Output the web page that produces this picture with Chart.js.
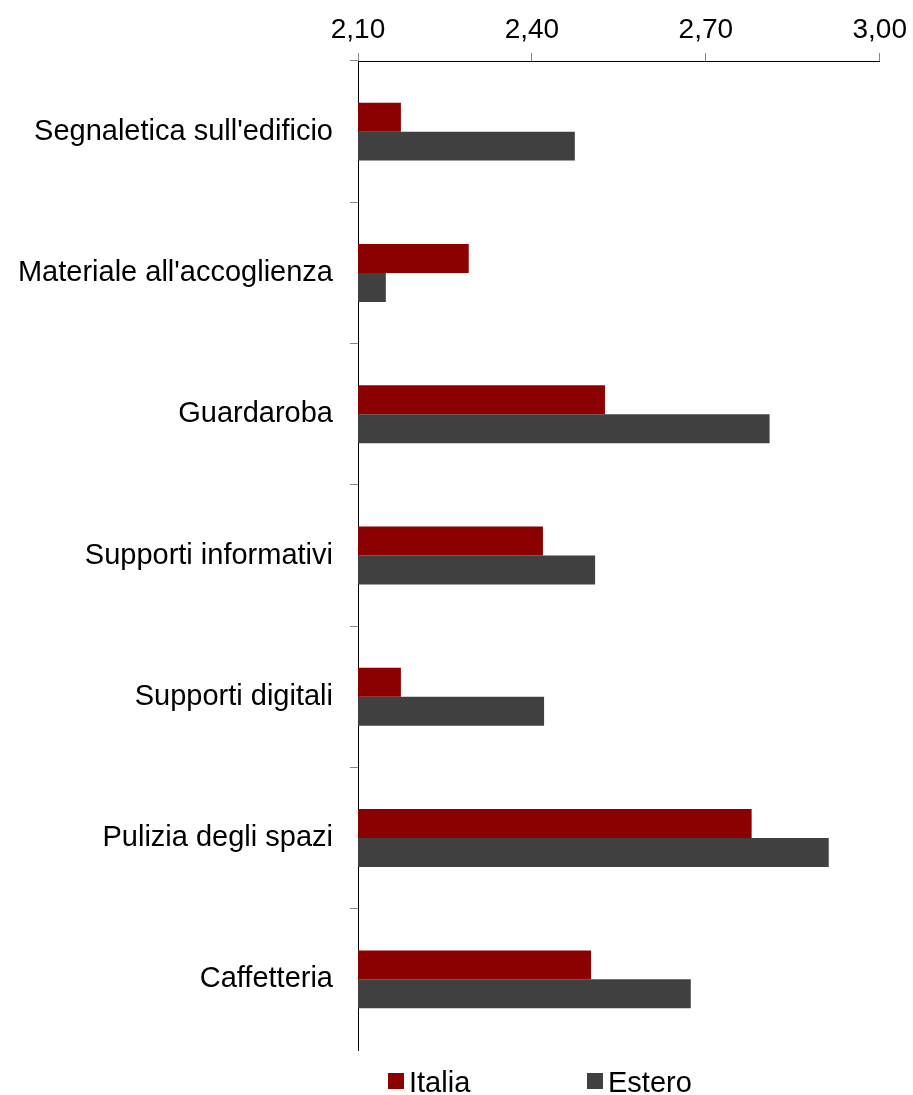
<!DOCTYPE html>
<html>
<head>
<meta charset="utf-8">
<script src="https://cdn.jsdelivr.net/npm/chart.js@4.4.1/dist/chart.umd.min.js"></script>
<style>
  html, body { margin: 0; padding: 0; background: #fff; }
  #wrap { position: relative; width: 913px; height: 1095px; overflow: hidden; }
  #legend { position: absolute; left: 0; top: 1066px; width: 913px; height: 34px;
            font-family: "Liberation Sans", Arial, sans-serif; font-size: 29px; color: #000; }
  .item { position: absolute; top: 0; display: flex; align-items: center; height: 33px; line-height: normal; }
  .box { width: 16px; height: 16px; margin-right: 5px; position: relative; top: -2px; }
</style>
</head>
<body>
<div id="wrap">
  <canvas id="c" width="913" height="1095"></canvas>
  <div id="legend"></div>
</div>
<script>
const categories = [
  "Segnaletica sull'edificio",
  "Materiale all'accoglienza",
  "Guardaroba",
  "Supporti informativi",
  "Supporti digitali",
  "Pulizia degli spazi",
  "Caffetteria"
];
const italia = [2.174, 2.291, 2.526, 2.419, 2.174, 2.779, 2.502];
const estero = [2.474, 2.148, 2.810, 2.509, 2.421, 2.912, 2.674];
const tickLabels = ["2,10", "2,40", "2,70", "3,00"];
const seriesNames = ["Italia", "Estero"];
const seriesColors = ["#8B0000", "#404040"];

const FONT = "'Liberation Sans', Arial, sans-serif";

const chart = new Chart(document.getElementById('c'), {
  type: 'bar',
  data: {
    labels: categories,
    datasets: [
      { label: seriesNames[0], data: italia, backgroundColor: seriesColors[0], borderWidth: 0 },
      { label: seriesNames[1], data: estero, backgroundColor: seriesColors[1], borderWidth: 0 }
    ]
  },
  options: {
    indexAxis: 'y',
    responsive: false,
    animation: false,
    layout: { padding: { left: 0, right: 33, top: 0, bottom: 45 } },
    datasets: { bar: { categoryPercentage: 0.41, barPercentage: 1.0 } },
    plugins: { legend: { display: false }, tooltip: { enabled: false } },
    scales: {
      x: {
        position: 'top',
        min: 2.1, max: 3.0,
        afterFit: s => { s.height = 61; },
        afterBuildTicks: s => { s.ticks = tickLabels.map((t, i) => ({ value: 2.1 + i * 0.3 })); },
        ticks: {
          font: { family: FONT, size: 28 }, color: '#000', padding: 6,
          callback: (v, i) => tickLabels[i]
        },
        grid: { drawOnChartArea: false, tickLength: 8, tickColor: '#888', tickWidth: 1 },
        border: { color: '#000', width: 1 }
      },
      y: {
        afterFit: s => { s.width = 358; },
        ticks: { font: { family: FONT, size: 29 }, color: '#000', padding: 17 },
        grid: {
          drawOnChartArea: false, tickLength: 8, tickWidth: 1, offset: true,
          tickColor: ctx => ctx.type === 'tick' ? '#888' : 'rgba(0,0,0,0)'
        },
        border: { color: '#000', width: 1 }
      }
    }
  }
});

// HTML legend built from the datasets
const legend = document.getElementById('legend');
const legendX = [388, 587];
chart.data.datasets.forEach((ds, i) => {
  const it = document.createElement('div');
  it.className = 'item';
  it.style.left = legendX[i] + 'px';
  const b = document.createElement('div');
  b.className = 'box';
  b.style.background = ds.backgroundColor;
  const t = document.createElement('span');
  t.textContent = ds.label;
  it.appendChild(b); it.appendChild(t);
  legend.appendChild(it);
});
</script>
</body>
</html>
